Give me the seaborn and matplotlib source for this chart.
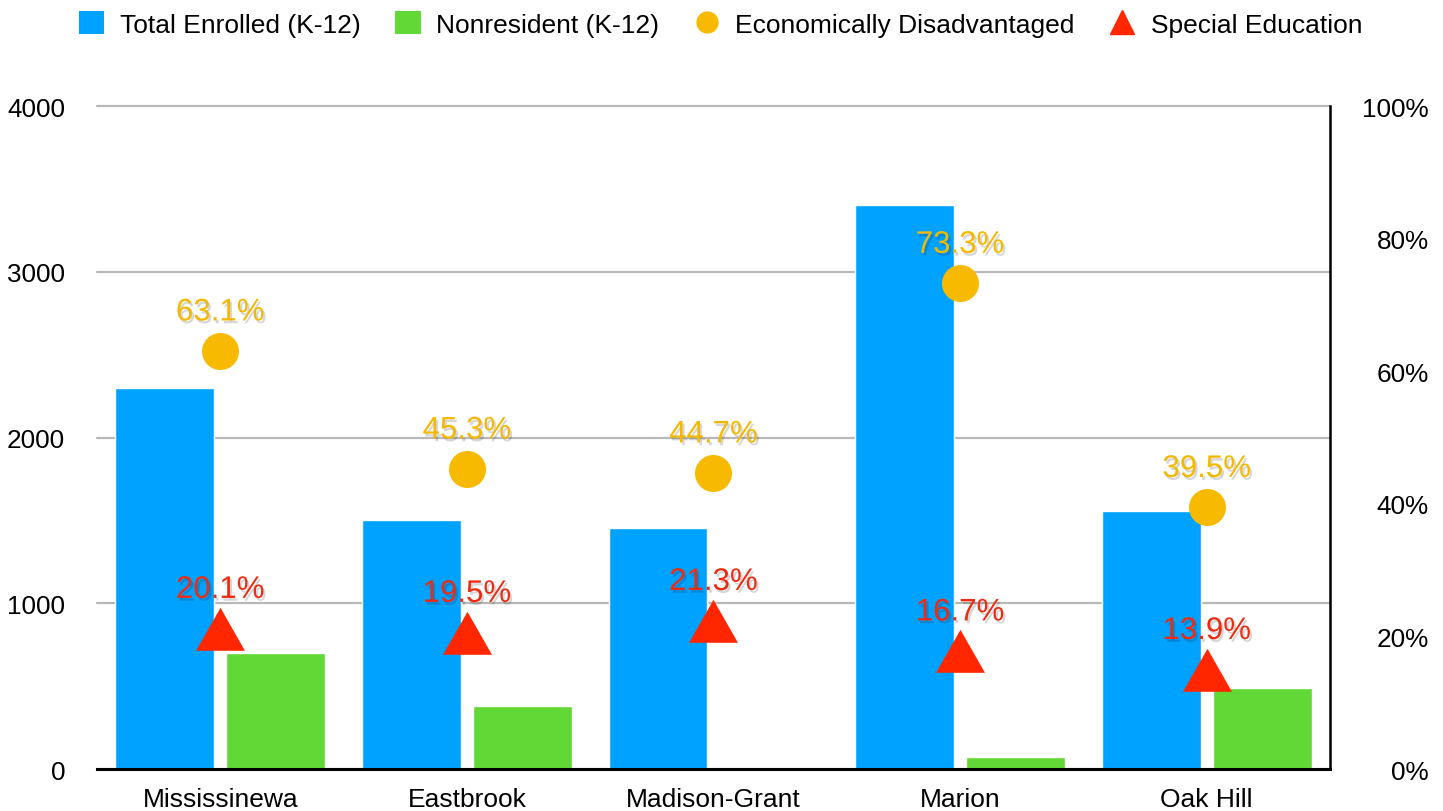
import matplotlib
matplotlib.use("Agg")
import matplotlib.pyplot as plt
import matplotlib.patheffects as pe
from matplotlib.patches import Patch
from matplotlib.lines import Line2D
import pandas as pd
import seaborn as sns

# values
districts = ["Mississinewa", "Eastbrook", "Madison-Grant", "Marion", "Oak Hill"]
total_enrolled = [2300, 1505, 1455, 3405, 1555]
nonresident = [700, 380, 0, 70, 490]
econ_disadv = [63.1, 45.3, 44.7, 73.3, 39.5]
special_ed = [20.1, 19.5, 21.3, 16.7, 13.9]

left_ticks = [0, 1000, 2000, 3000, 4000]
right_ticks = [0, 20, 40, 60, 80, 100]

BLUE = "#00A2FF"
GREEN = "#61D836"
YELLOW = "#F8BA00"
RED = "#FF2600"

sns.set_style("white")
plt.rcParams["font.family"] = ["Liberation Sans", "DejaVu Sans"]
plt.rcParams["text.color"] = "black"

bars = pd.DataFrame({
    "district": districts * 2,
    "students": total_enrolled + nonresident,
    "series": ["Total Enrolled (K-12)"] * 5 + ["Nonresident (K-12)"] * 5,
})
rates = pd.DataFrame({"district": districts, "econ": econ_disadv, "sped": special_ed})

fig = plt.figure(figsize=(14.43, 8.12), dpi=100)
ax = fig.add_axes([0.0672, 0.0517, 0.8545, 0.8165])

sns.barplot(data=bars, x="district", y="students", hue="series",
            palette=[BLUE, GREEN], width=0.9, gap=0.11, saturation=1,
            legend=False, ax=ax, zorder=2)
ax.set_ylim(0, 4000)
ax.set_yticks(left_ticks)
ax.set_xlim(-0.5, 4.5)
ax.set_xlabel("")
ax.set_ylabel("")
ax.set_axisbelow(True)
ax.yaxis.grid(True, color="#b8b8b8", lw=1.6)
ax.xaxis.grid(False)
for gl in ax.get_ygridlines():
    gl.set_clip_on(False)
for s in ["left", "top", "right"]:
    ax.spines[s].set_visible(False)
ax.spines["bottom"].set_color("black")
ax.spines["bottom"].set_linewidth(2.2)
ax.tick_params(axis="y", length=0, pad=23, labelsize=18.8, labelcolor="black")
ax.tick_params(axis="x", length=0, pad=13, labelsize=19, labelcolor="black")

ax2 = ax.twinx()
tri = [(0, 28.7), (-24.5, -14.3), (24.5, -14.3)]
sns.scatterplot(data=rates, x="district", y="econ", color=YELLOW, s=710,
                marker="o", linewidth=0, ax=ax2, zorder=3)
sns.scatterplot(data=rates, x="district", y="sped", color=RED, s=1706,
                marker=tri, linewidth=0, ax=ax2, zorder=3)
ax2.set_ylim(0, 100)
ax2.set_xlim(-0.5, 4.5)
ax2.set_yticks(right_ticks)
ax2.set_yticklabels([f"{t}%" for t in right_ticks])
ax2.set_ylabel("")
ax2.set_xlabel("")
for s in ["left", "top", "bottom"]:
    ax2.spines[s].set_visible(False)
ax2.spines["right"].set_color("black")
ax2.spines["right"].set_linewidth(1.8)
ax2.tick_params(axis="y", length=0, pad=71, labelsize=18.8, labelcolor="black")
for t in ax2.get_yticklabels():
    t.set_ha("right")

shadow = [pe.SimplePatchShadow(offset=(1.5, -2), shadow_rgbFace="black", alpha=0.16), pe.Normal()]
for d, e, sp in zip(districts, econ_disadv, special_ed):
    ax2.annotate(f"{e}%", (d, e), xytext=(0, 27.5), textcoords="offset points",
                 ha="center", va="center", fontsize=22.5, color="#F5B800",
                 path_effects=shadow, zorder=4)
    ax2.annotate(f"{sp}%", (d, sp), xytext=(0, 33), textcoords="offset points",
                 ha="center", va="center", fontsize=22.5, color="#EE2A10",
                 path_effects=shadow, zorder=4)

handles = [
    Patch(facecolor=BLUE, edgecolor="none"),
    Patch(facecolor=GREEN, edgecolor="none"),
    Line2D([], [], marker="o", color=YELLOW, linestyle="none", markersize=15),
    Line2D([], [], marker="^", color=RED, linestyle="none", markersize=17),
]
labels = ["Total Enrolled (K-12)", "Nonresident (K-12)",
          "Economically Disadvantaged", "Special Education"]
fig.legend(handles, labels, loc="center", bbox_to_anchor=(0.4993, 0.969), ncol=4,
           frameon=False, fontsize=19, handlelength=0.95, handleheight=0.95,
           handletextpad=0.6, columnspacing=1.33, borderpad=0, borderaxespad=0,
           labelcolor="black")

fig.savefig("out.png", dpi=100)
